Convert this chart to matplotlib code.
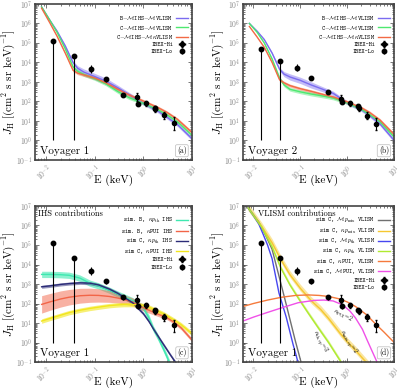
import matplotlib
matplotlib.use("Agg")
import matplotlib.pyplot as plt
import numpy as np

plt.rcParams.update({
    "font.family": ["cmr10", "DejaVu Serif"],
    "mathtext.fontset": "cm",
    "axes.formatter.use_mathtext": True,
    "axes.unicode_minus": False,
})

# ---- IBEX data ----
lo_E = [0.0143, 0.037, 0.083, 0.172, 0.39, 0.79, 1.69]
lo_J1 = [1.2e5, 2.1e4, 4.6e3, 1.4e3, 220, 74, 45]
lo_min1 = [1.0, 1.0, 2.8e3, 1.0e3, 160, 55, 36]
lo_max1 = [1.3e5, 2.3e4, 7.5e3, 1.8e3, 280, 95, 55]
lo_J2 = [5.1e4, 1.2e4, 5.4e3, 1.55e3, 300, 98, 59]
lo_min2 = [1.0, 1.0, 3.5e3, 1.2e3, 230, 75, 47]
lo_max2 = [5.5e4, 1.3e4, 8.5e3, 2.0e3, 380, 125, 72]
hi_E = [0.73, 1.12, 1.75, 2.67, 4.17]
hi_J1 = [160, 81, 40, 19.5, 7.6]
hi_min1 = [105, 60, 30, 12, 3.5]
hi_max1 = [260, 110, 55, 30, 15]
hi_J2 = [135, 81, 45, 18.6, 7.0]
hi_min2 = [95, 60, 33, 12, 3.5]
hi_max2 = [210, 110, 60, 28, 14]

# ---- panel a / b models ----
E_ab = [0.0082, 0.012, 0.017, 0.025, 0.036, 0.045, 0.06, 0.1, 0.17, 0.3, 0.5, 1.0, 2.0, 3.0, 5.0, 10.0]
a_purple = [7e6, 1.5e6, 4e5, 7e4, 1e4, 5e3, 3.2e3, 1.9e3, 1.1e3, 500, 230, 80, 32, 16, 6.5, 1.2]
a_green = [7e6, 1.5e6, 3.5e5, 5e4, 6e3, 3.5e3, 2.4e3, 1.5e3, 800, 320, 160, 80, 37, 21, 9, 1.8]
a_red = [6e6, 1.1e6, 2.2e5, 3e4, 4e3, 2.8e3, 2.3e3, 1.6e3, 900, 420, 220, 105, 48, 28, 12, 2.5]
b_purple = [1e6, 4e5, 1.5e5, 3e4, 4.5e3, 2.5e3, 1.8e3, 1.2e3, 700, 420, 260, 85, 38, 19, 7, 1.0]
b_green = [1e6, 3.5e5, 1e5, 1.5e4, 1.6e3, 700, 420, 310, 240, 190, 150, 85, 40, 21, 9, 1.5]
b_red = [7e5, 2e5, 6e4, 1e4, 1.3e3, 900, 650, 450, 330, 230, 170, 95, 47, 27, 11, 2.0]
# multiplicative half widths of the shaded bands
band_purple = [1.03, 1.05, 1.1, 1.15, 1.2, 1.35, 1.45, 1.45, 1.45, 1.35, 1.3, 1.25, 1.25, 1.25, 1.25, 1.25]
band_green = [1.03, 1.05, 1.1, 1.15, 1.2, 1.25, 1.25, 1.25, 1.25, 1.25, 1.25, 1.2, 1.2, 1.2, 1.2, 1.2]
band_red = [1.03, 1.05, 1.1, 1.15, 1.2, 1.2, 1.2, 1.2, 1.2, 1.2, 1.2, 1.2, 1.2, 1.2, 1.2, 1.2]

# ---- panel c: IHS contributions ----
E_c = [0.0082, 0.012, 0.02, 0.03, 0.05, 0.08, 0.12, 0.2, 0.3, 0.4, 0.6, 1.0, 1.3, 1.6, 2.0, 2.5, 3.0, 3.5, 4.5, 6.0, 10.0]
c_teal = [3.1e3, 3.1e3, 3e3, 2.8e3, 2.0e3, 1.1e3, 800, 480, 300, 220, 140, 60, 18, 5, 1.8, 0.55, 0.2, 0.08, 0.02, 0.005, 0.001]
c_navy = [720, 800, 950, 1.05e3, 1.15e3, 1.1e3, 900, 550, 330, 210, 110, 30, 12, 5, 2.1, 0.9, 0.45, 0.25, 0.1, 0.03, 0.005]
c_red = [90, 120, 170, 210, 250, 265, 260, 230, 190, 160, 120, 60, 45, 36, 28, 23, 19, 15, 10, 5.5, 1.3]
c_yellow = [12.6, 17, 25, 34, 45, 56, 65, 78, 85, 88, 88, 80, 65, 52, 40, 31, 24, 19, 13, 8, 2.8]
band_teal = [1.45] * len(E_c)
band_navy = [1.2] * len(E_c)
band_c_red = [2.8, 2.7, 2.6, 2.5, 2.4, 2.3, 2.2, 2.0, 1.8, 1.7, 1.6, 1.45, 1.4, 1.35, 1.3, 1.3, 1.25, 1.25, 1.25, 1.25, 1.25]
band_yellow = [1.3] * len(E_c)

# ---- panel d: VLISM contributions ----
E_gray = [0.0077, 0.01, 0.013, 0.0185, 0.025, 0.038, 0.05, 0.077, 0.106]
d_gray = [8e6, 3.5e6, 1.5e6, 2.9e5, 6e4, 1.2e3, 90, 1.4, 0.08]
E_blue = [0.0077, 0.01, 0.013, 0.0158, 0.02, 0.025, 0.035, 0.05, 0.07, 0.09]
d_blue = [8e6, 3.2e6, 1.2e6, 4e5, 1e5, 2e4, 350, 20, 0.8, 0.09]
E_gold = [0.0077, 0.01, 0.015, 0.025, 0.038, 0.06, 0.1, 0.17, 0.27, 0.4, 0.7, 1.0, 1.5, 2.5, 3.0]
d_gold = [8e6, 3.5e6, 9e5, 1.3e5, 1.9e4, 3e3, 600, 140, 50, 17, 3.0, 1.1, 0.4, 0.1, 0.06]
E_lgreen = [0.0077, 0.01, 0.015, 0.025, 0.038, 0.06, 0.1, 0.145, 0.25, 0.4, 0.7, 0.85]
d_lgreen = [8e6, 3.3e6, 8e5, 8e4, 7e3, 900, 130, 34, 5, 1.0, 0.12, 0.05]
E_orange = [0.006, 0.01, 0.02, 0.04, 0.08, 0.15, 0.25, 0.4, 0.7, 1.0, 1.5, 2.5, 4.0, 6.0, 10.0]
d_orange = [70, 100, 150, 210, 260, 275, 260, 230, 170, 120, 70, 28, 9, 3.5, 1.0]
E_mag = [0.006, 0.01, 0.02, 0.04, 0.09, 0.2, 0.32, 0.5, 0.8, 1.14, 1.5, 2.1, 2.7, 3.5, 4.3, 5.0]
d_mag = [12.6, 20, 35, 60, 110, 145, 150, 135, 85, 41, 18, 4.8, 1.2, 0.3, 0.1, 0.04]

PURPLE, GREEN, RED = "#7b6cf0", "#4de870", "#f26a45"

fig = plt.figure(figsize=(4.0, 3.92), dpi=100)
pos = {
    "a": [0.0875, 0.592, 0.393, 0.398],
    "b": [0.6075, 0.592, 0.378, 0.398],
    "c": [0.0875, 0.0765, 0.393, 0.398],
    "d": [0.6075, 0.0765, 0.378, 0.398],
}
leg_font = {"family": ["cmtt10", "DejaVu Sans Mono"], "size": 4.3}


def band(ax, E, J, f, color, label, alpha=0.45):
    J = np.array(J)
    f = np.array(f)
    ax.fill_between(E, J / f, J * f, color=color, alpha=alpha, lw=0)
    ax.plot(E, J, color=color, lw=1.0, label=label)


def ibex(ax, J_lo, lo_min, lo_max, J_hi, hi_min, hi_max):
    J_hi = np.array(J_hi)
    J_lo = np.array(J_lo)
    yerr_hi = [J_hi - np.array(hi_min), np.array(hi_max) - J_hi]
    ax.errorbar(hi_E, J_hi, yerr=yerr_hi, xerr=np.array(hi_E) * 0.03, fmt="o", color="k",
                ms=3, elinewidth=0.8, capsize=1, label="IBEX-Hi")
    yerr_lo = [J_lo - np.array(lo_min), np.array(lo_max) - J_lo]
    ax.errorbar(lo_E, J_lo, yerr=yerr_lo, fmt="o", color="k", ms=3.2,
                elinewidth=0.8, capsize=0, label="IBEX-Lo")


def style(ax, tag, voyager, title=None, tx=0.02):
    ax.set_xscale("log")
    ax.set_yscale("log")
    ax.set_xlim(0.006, 10)
    ax.set_ylim(1e-1, 1e7)
    ax.set_yticks([10.0 ** k for k in range(-1, 8)])
    ax.set_xticks([1e-2, 1e-1, 1e0, 1e1])
    ax.tick_params(which="both", direction="in", top=True, right=True, labelsize=5.5,
                   labelcolor="#8a8a8a", color="#444444", width=0.5, pad=2)
    ax.tick_params(which="major", length=3)
    ax.tick_params(which="minor", length=1.5)
    plt.setp(ax.get_xticklabels(), rotation=45, ha="right", rotation_mode="anchor")
    for s in ax.spines.values():
        s.set_linewidth(1.2)
        s.set_color("#444444")
    ax.set_xlabel("E (keV)", fontsize=8)
    ax.xaxis.set_label_coords(0.5, -0.095)
    ax.set_ylabel(r"$J_{\rm H}$ [(cm$^2$ s sr keV)$^{-1}$]", fontsize=8)
    ax.yaxis.set_label_coords(-0.112, 0.5)
    ax.text(0.03, 0.025, voyager, transform=ax.transAxes, fontsize=8, va="bottom")
    ax.text(0.965, 0.03, tag, transform=ax.transAxes, fontsize=5.5, ha="right", va="bottom",
            bbox=dict(boxstyle="round,pad=0.2", fc="white", ec="#bbbbbb", lw=0.5))
    if title:
        ax.text(tx, 0.975, title, transform=ax.transAxes, fontsize=6, va="top")
    ax.legend(loc="upper right", bbox_to_anchor=(1.0, 0.96), frameon=False, prop=leg_font,
              markerfirst=False, handlelength=2.0, labelspacing=0.2, borderaxespad=0.3,
              handletextpad=0.5)


labels_ab = [r"B$-\mathcal{M}$IHS$-\mathcal{M}$VLISM", r"C$-\mathcal{M}$IHS$-\mathcal{M}$VLISM",
             r"C$-\mathcal{M}$IHS$-\mathcal{M}\kappa$VLISM"]

# (a)
ax = fig.add_axes(pos["a"])
band(ax, E_ab, a_purple, band_purple, PURPLE, labels_ab[0])
band(ax, E_ab, a_green, band_green, GREEN, labels_ab[1])
band(ax, E_ab, a_red, band_red, RED, labels_ab[2])
ibex(ax, lo_J1, lo_min1, lo_max1, hi_J1, hi_min1, hi_max1)
style(ax, "(a)", "Voyager 1")

# (b)
ax = fig.add_axes(pos["b"])
band(ax, E_ab, b_purple, band_purple, PURPLE, labels_ab[0])
band(ax, E_ab, b_green, band_green, GREEN, labels_ab[1])
band(ax, E_ab, b_red, band_red, RED, labels_ab[2])
ibex(ax, lo_J2, lo_min2, lo_max2, hi_J2, hi_min2, hi_max2)
style(ax, "(b)", "Voyager 2")

# (c)
ax = fig.add_axes(pos["c"])
band(ax, E_c, c_teal, band_teal, "#3ee8b0", r"sim. B, $\kappa p_{\rm th}$ IHS", alpha=0.6)
band(ax, E_c, c_red, band_c_red, "#f26548", r"sim. B, $\kappa$PUI IHS", alpha=0.5)
band(ax, E_c, c_navy, band_navy, "#2c2c78", r"sim C, $\kappa p_{\rm th}$ IHS", alpha=0.5)
band(ax, E_c, c_yellow, band_yellow, "#f2e61c", r"sim C, $\kappa$PUI IHS", alpha=0.6)
ibex(ax, lo_J1, lo_min1, lo_max1, hi_J1, hi_min1, hi_max1)
style(ax, "(c)", "Voyager 1", "IHS contributions")

# (d)
ax = fig.add_axes(pos["d"])
ax.plot(E_gray, d_gray, color="#707070", lw=1.0, label=r"sim C, $\mathcal{M}p_{\rm mix}$ VLISM")
ax.fill_between(E_gold, np.array(d_gold) / 1.4, np.array(d_gold) * 1.6, color="#f5c830", alpha=0.45, lw=0)
ax.plot(E_gold, d_gold, color="#f5c830", lw=1.0, label=r"sim C, $\kappa p_{\rm mix}$ VLISM")
ax.plot(E_blue, d_blue, color="#4646f0", lw=1.0, label=r"sim C, $\mathcal{M}p_{\rm th}$ VLISM")
ax.fill_between(E_lgreen, np.array(d_lgreen) / 1.25, np.array(d_lgreen) * 1.3, color="#b0ea30", alpha=0.45, lw=0)
ax.plot(E_lgreen, d_lgreen, color="#b0ea30", lw=1.0, label=r"sim C, $\kappa p_{\rm th}$ VLISM")
ax.plot(E_orange, d_orange, color="#f57a3c", lw=1.0, label=r"sim C, $\kappa$PUI, VLISM")
ax.plot(E_mag, d_mag, color="#f050e8", lw=1.0, label=r"sim C, $\mathcal{M}$PUI, VLISM")
ibex(ax, lo_J1, lo_min1, lo_max1, hi_J1, hi_min1, hi_max1)
style(ax, "(d)", "Voyager 1", "VLISM contributions", tx=0.1)
ax.text(0.66, 0.30, r"$\kappa_{\rm PUI}$=2", transform=ax.transAxes, fontsize=4.5,
        rotation=-28, ha="center", va="center")
ax.text(0.51, 0.135, r"$\kappa_{\rm th,ep}$=3", transform=ax.transAxes, fontsize=4.5,
        rotation=-62, ha="center", va="center")
ax.text(0.70, 0.13, r"$\kappa_{\rm mix,ep}$=2", transform=ax.transAxes, fontsize=4.5,
        rotation=-58, ha="center", va="center")

fig.savefig("out.png", dpi=100)
